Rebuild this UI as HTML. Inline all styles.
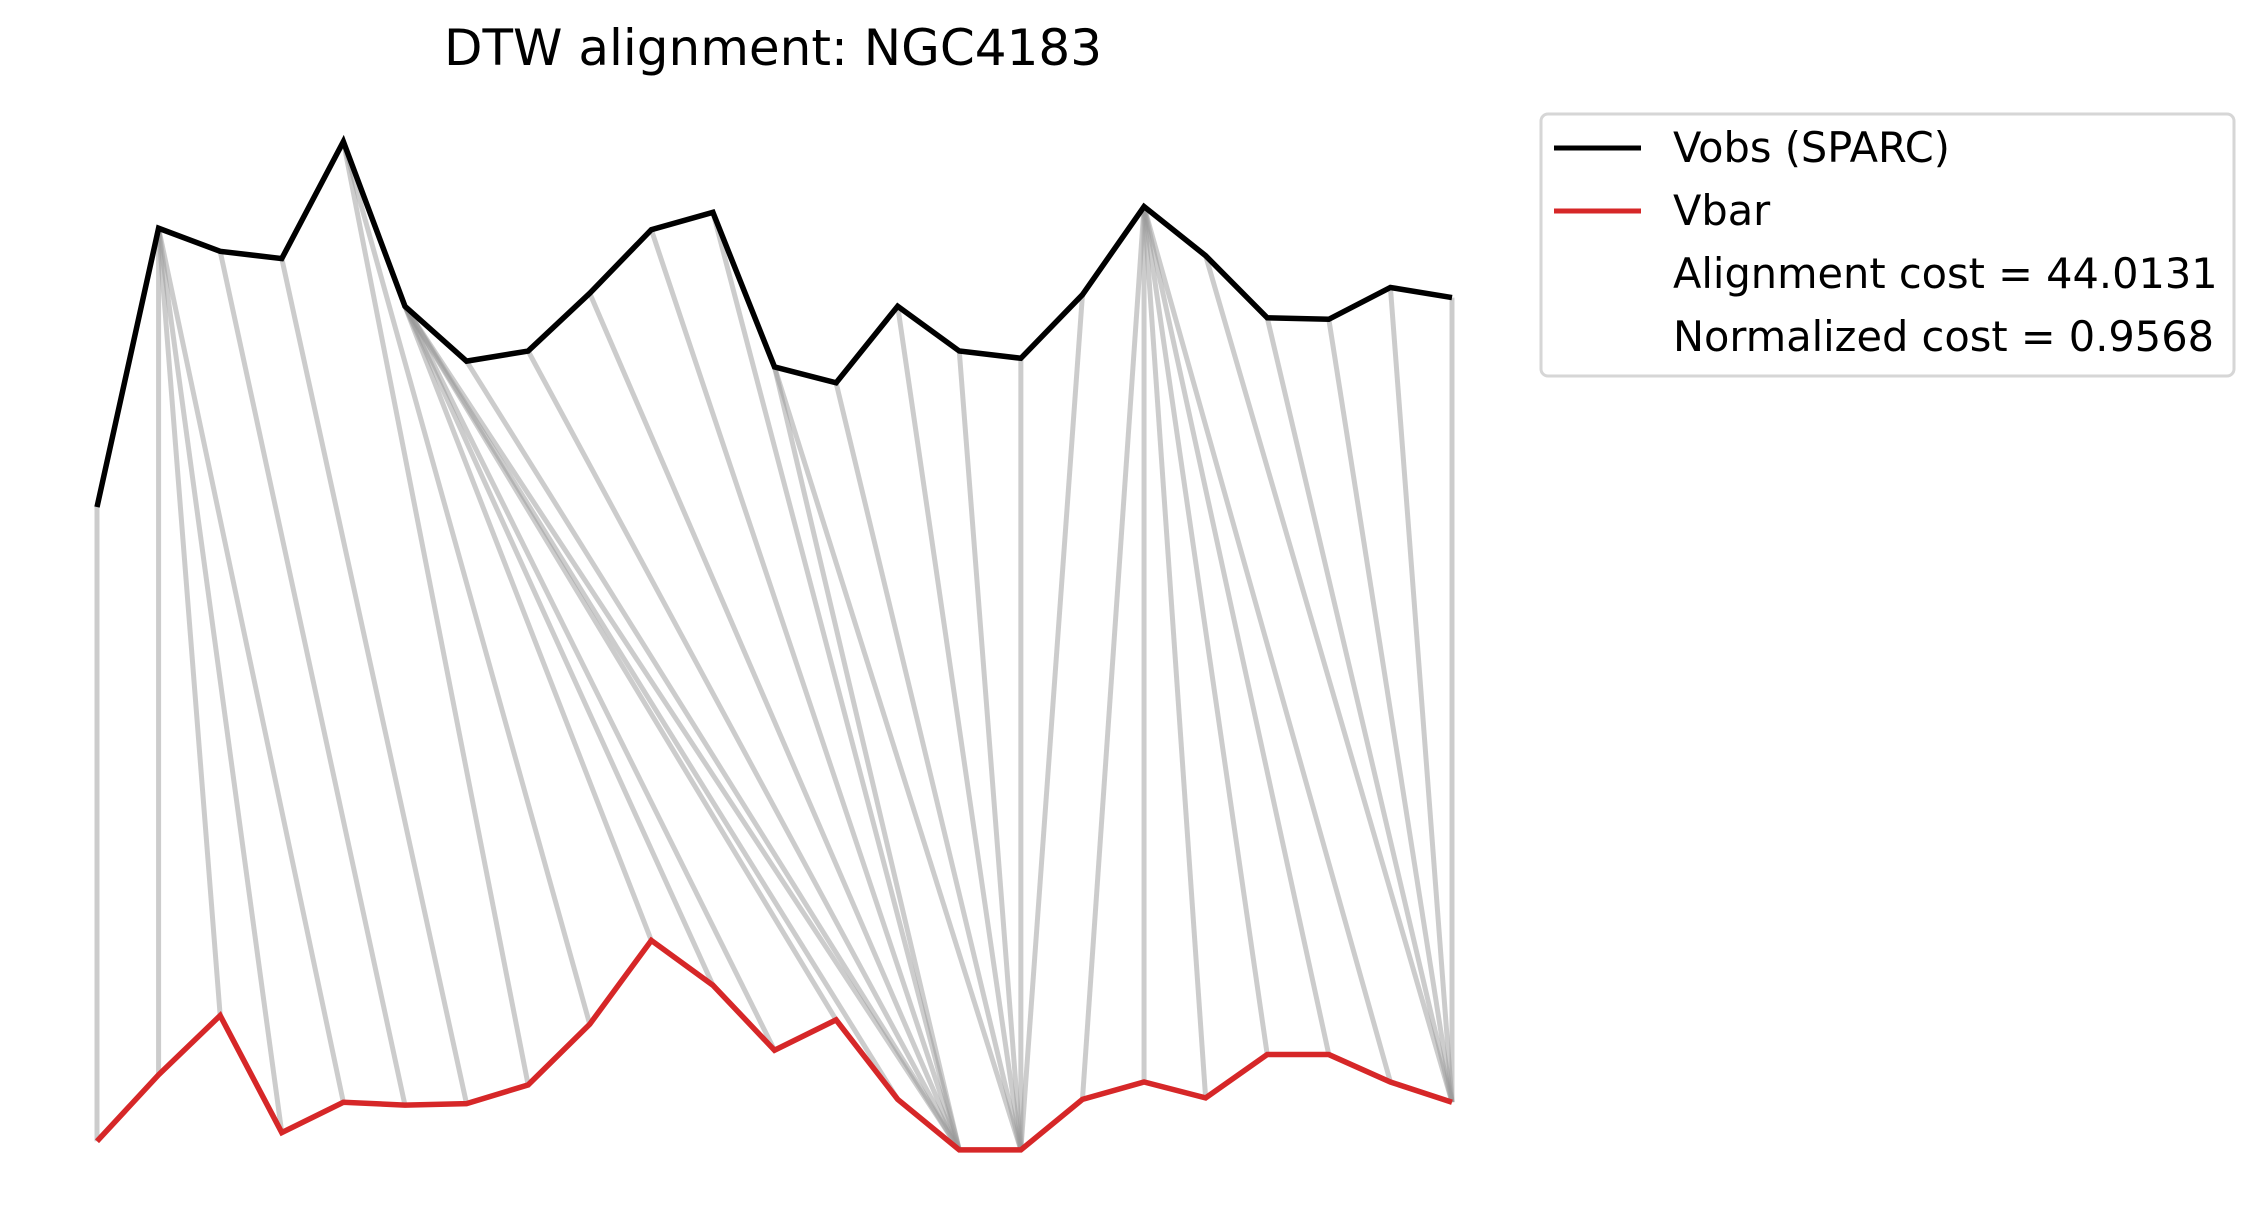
<!DOCTYPE html>
<html><head><meta charset="utf-8">
<style>
html,body{margin:0;padding:0;background:#fff;}
svg{display:block;}
text{font-family:"DejaVu Sans","Liberation Sans",sans-serif;fill:#000;}
</style></head>
<body>
<svg id="chart" width="2265" height="1231" viewBox="0 0 2265 1231" xmlns="http://www.w3.org/2000/svg">
<text x="773" y="65" font-size="50" text-anchor="middle">DTW alignment: NGC4183</text>
<g id="links"></g>
<g id="series"></g>
<g>
<rect x="1541" y="114" width="693" height="262" rx="7" fill="#fff" stroke="#d6d6d6" stroke-width="3"/>
<line x1="1554" y1="148" x2="1641" y2="148" stroke="#000" stroke-width="5"/>
<text x="1673" y="162" font-size="41.5">Vobs (SPARC)</text>
<line x1="1554" y1="211" x2="1641" y2="211" stroke="#d62728" stroke-width="5"/>
<text x="1673" y="225" font-size="41.5">Vbar</text>
<text x="1673" y="288" font-size="41.5">Alignment cost = 44.0131</text>
<text x="1673" y="351" font-size="41.5">Normalized cost = 0.9568</text>
</g>
</svg>
<script>
const vobs = [501,694,678,673,754,640,602,609,649,693,705,598,587,640,609,604,648,709,675,632,631,653,646];
const vbar = [62,108,149,68,89,87,88,101,143,201,170,125,146,91,56,56,91,103,92,122,122,103,89];
const pathObs = [0,1,1,1,1,2,3,4,4,5,5,5,5,5,5,6,7,8,9,10,11,11,12,13,14,15,16,17,17,17,17,17,17,18,19,20,21,22];
const pathBar = [0,1,2,3,4,5,6,7,8,9,10,11,12,13,14,14,14,14,14,14,14,15,15,15,15,15,15,16,17,18,19,20,21,22,22,22,22,22];

const S = 1.4446;
function xPos(i){ return 97 + i*(1452-97)/(vobs.length-1); }
function yPos(v){ return (852 - v)*S; }
const NS = 'http://www.w3.org/2000/svg';
const links = document.getElementById('links');
for (let k=0;k<pathObs.length;k++){
  const i=pathObs[k], j=pathBar[k];
  const l=document.createElementNS(NS,'line');
  l.setAttribute('x1',xPos(i)); l.setAttribute('y1',yPos(vobs[i]));
  l.setAttribute('x2',xPos(j)); l.setAttribute('y2',yPos(vbar[j]));
  l.setAttribute('stroke','#9a9a9a'); l.setAttribute('stroke-opacity','0.5'); l.setAttribute('stroke-width','5');
  
  
  links.appendChild(l);
}
const series = document.getElementById('series');
function poly(arr,color,name){
  const p=document.createElementNS(NS,'polyline');
  p.setAttribute('points',arr.map((v,i)=>xPos(i)+','+yPos(v)).join(' '));
  p.setAttribute('fill','none'); p.setAttribute('stroke',color); p.setAttribute('stroke-width','5.5');
  p.setAttribute('stroke-linejoin','miter');
  
  
  series.appendChild(p);
}
poly(vobs,'#000','vobs-line');
poly(vbar,'#d62728','vbar-line');
</script>
</body></html>
